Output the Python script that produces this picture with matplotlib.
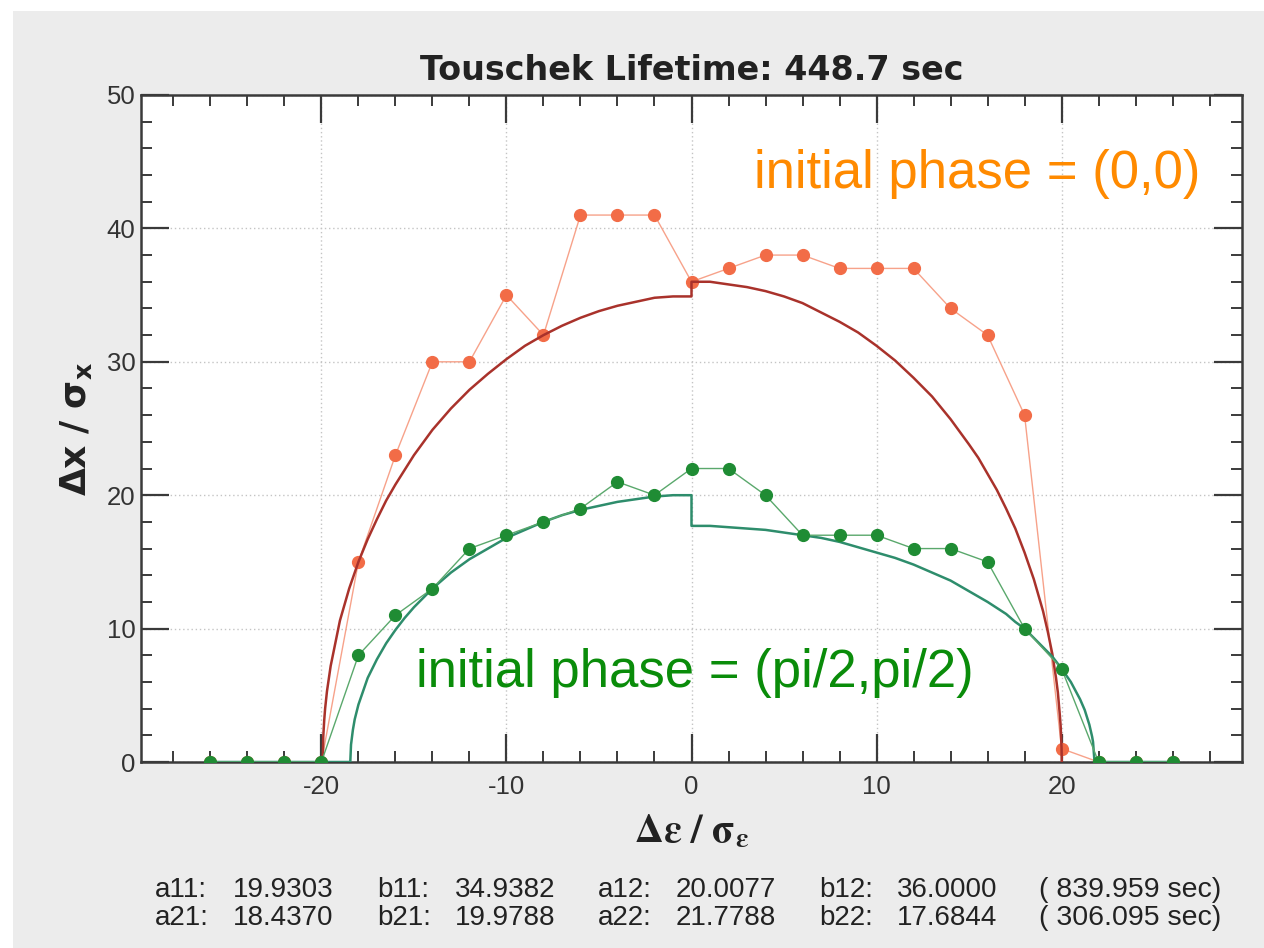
import matplotlib.pyplot as plt
from matplotlib.patches import Rectangle
from matplotlib.ticker import MultipleLocator

plt.rcParams['axes.unicode_minus'] = False

# measured points (x in units of sigma_e)
x_pts = [-26, -24, -22, -20, -18, -16, -14, -12, -10, -8, -6, -4, -2, 0,
         2, 4, 6, 8, 10, 12, 14, 16, 18, 20, 22, 24, 26]
y_phase00 = [0, 0, 0, 0, 15, 23, 30, 30, 35, 32, 41, 41, 41, 36,
             37, 38, 38, 37, 37, 37, 34, 32, 26, 1, 0, 0, 0]
y_phasepi2 = [0, 0, 0, 0, 8, 11, 13, 16, 17, 18, 19, 21, 20, 22,
              22, 20, 17, 17, 17, 16, 16, 15, 10, 7, 0, 0, 0]

# fitted curves
fit1_x = [-19.93, -19.9, -19.85, -19.8, -19.7, -19.5, -19, -18.5, -18, -17.5, -17,
          -16.5, -16, -15, -14, -13, -12, -11, -10, -9, -8, -7, -6, -5, -4, -3,
          -2, -1, 0,
          0, 1, 2, 3, 4, 5, 6, 7, 8, 9, 10, 11, 12, 13, 14, 15, 15.5, 16, 16.5,
          17, 17.5, 18, 18.5, 19, 19.25, 19.5, 19.7, 19.8, 19.9, 19.95, 20.0, 20.01]
fit1_y = [0, 1.9, 3.1, 4.0, 5.3, 7.2, 10.6, 13.0, 15.0, 16.7, 18.2,
          19.6, 20.8, 23.0, 24.9, 26.5, 27.9, 29.1, 30.2, 31.2, 32.0, 32.7, 33.3, 33.8, 34.2, 34.5,
          34.8, 34.9, 34.9,
          36.0, 36.0, 35.8, 35.6, 35.3, 34.9, 34.4, 33.7, 33.0, 32.2, 31.2, 30.1, 28.8, 27.4, 25.7,
          23.8, 22.8, 21.6, 20.4,
          19.0, 17.5, 15.7, 13.7, 11.3, 9.8, 8.1, 6.3, 5.2, 3.6, 2.7, 1.0, 0]
fit2_x = [-26, -18.44, -18.4, -18.3, -18.2, -18, -17.5, -17, -16.5, -16, -15.5, -15,
          -14.5, -14, -13, -12, -11, -10, -9, -8, -7, -6, -5, -4, -3, -2, -1, 0,
          0, 1, 2, 3, 4, 5, 6, 7, 8, 9, 10, 11, 12, 13, 14, 15, 16, 17, 17.5, 18,
          18.5, 19, 19.5, 20, 20.5, 21, 21.25, 21.5, 21.65, 21.7, 21.78, 26]
fit2_y = [0, 0, 1.3, 2.4, 3.2, 4.3, 6.3, 7.7, 8.9, 9.9, 10.8, 11.6,
          12.3, 13.0, 14.2, 15.2, 16.0, 16.8, 17.4, 18.0, 18.5, 18.9, 19.2, 19.5, 19.7, 19.9,
          20.0, 20.0,
          17.7, 17.7, 17.6, 17.5, 17.4, 17.2, 17.0, 16.8, 16.5, 16.1, 15.7, 15.3, 14.8, 14.2,
          13.6, 12.8, 12.0, 11.1, 10.5, 10.0,
          9.3, 8.6, 7.9, 7.0, 6.0, 4.7, 3.9, 2.8, 1.9, 1.5, 0, 0]

fit_names = [['a11:', 'b11:', 'a12:', 'b12:'], ['a21:', 'b21:', 'a22:', 'b22:']]
fit_values = [[19.9303, 34.9382, 20.0077, 36.0000], [18.4370, 19.9788, 21.7788, 17.6844]]
lifetimes = [839.959, 306.095]

W, H = 1264, 948
fig = plt.figure(figsize=(12.64, 9.48), dpi=100)
fig.patch.set_facecolor('white')
fig.add_artist(Rectangle((13 / W, 0), 1, 1 - 11 / H, transform=fig.transFigure,
                         facecolor='#ececec', edgecolor='none', zorder=-5))

ax = fig.add_axes([141 / W, 1 - 762 / H, (1242 - 141) / W, (762 - 95) / H])
ax.set_facecolor('white')

# orange data + fit
ax.plot(x_pts, y_phase00, color='#f7a28a', lw=1.0, marker='o', ms=8.5,
        mfc='#f26c47', mec='#f26c47', zorder=2)
ax.plot(fit1_x, fit1_y, color='#a9322b', lw=1.8, zorder=3)
# green data + fit
ax.plot(fit2_x, fit2_y, color='#2e8d6c', lw=1.8, zorder=4)
ax.plot(x_pts, y_phasepi2, color='#5aa86c', lw=1.0, marker='o', ms=8.5,
        mfc='#1f8c34', mec='#1f8c34', zorder=5)

ax.set_xlim(-29.75, 29.75)
ax.set_ylim(0, 50)
ax.xaxis.set_major_locator(MultipleLocator(10))
ax.xaxis.set_minor_locator(MultipleLocator(2))
ax.yaxis.set_major_locator(MultipleLocator(10))
ax.yaxis.set_minor_locator(MultipleLocator(2))

ax.grid(which='major', color='#c4c4c4', linestyle=(0, (1, 2)), linewidth=1.0, zorder=0)
ax.set_axisbelow(True)

ax.tick_params(which='both', direction='in', top=True, right=True, color='#3a3a3a')
ax.tick_params(which='major', length=20, width=1.6)
ax.tick_params(which='minor', length=8, width=1.4)
ax.tick_params(axis='x', which='major', pad=9)
ax.tick_params(axis='y', which='major', pad=4)
for lab in ax.get_xticklabels() + ax.get_yticklabels():
    lab.set_fontfamily('Liberation Sans')
    lab.set_fontsize(18.5)
    lab.set_color('#333333')
for sp in ax.spines.values():
    sp.set_color('#3a3a3a')
    sp.set_linewidth(1.8)

ax.set_title('Touschek Lifetime: 448.7 sec', fontsize=24, fontweight='bold',
             family='DejaVu Sans', color='#222222', pad=11)
ax.set_ylabel(r'$\mathbf{\Delta x\ /\ \sigma_x}$', fontsize=26, math_fontfamily='dejavusans',
              color='#222222', labelpad=9)
ax.set_xlabel(r'$\mathbf{\Delta\varepsilon\ /\ \sigma_{\varepsilon}}$', fontsize=29,
              math_fontfamily='stix', color='#222222', labelpad=9)

ax.text(3.4, 43.0, 'initial phase = (0,0)', color='#ff8a00', fontsize=38,
        family='Liberation Sans', va='baseline', ha='left', zorder=6)
ax.text(-14.9, 5.6, 'initial phase = (pi/2,pi/2)', color='#0a8c0a', fontsize=38,
        family='Liberation Sans', va='baseline', ha='left', zorder=6)

# fit parameter table below the plot
label_x = [155, 377, 598, 819]
row_y = [897, 925]
for r in range(2):
    for c in range(4):
        fig.text(label_x[c] / W, 1 - row_y[r] / H, fit_names[r][c], fontsize=20,
                 family='Liberation Sans', color='#222222', va='baseline')
        fig.text((label_x[c] + 78) / W, 1 - row_y[r] / H, f'{fit_values[r][c]:.4f}',
                 fontsize=20, family='Liberation Sans', color='#222222', va='baseline')
    fig.text(1039 / W, 1 - row_y[r] / H, f'( {lifetimes[r]:.3f} sec)', fontsize=20.5,
             family='Liberation Sans', color='#222222', va='baseline')

fig.savefig('out.png', dpi=100)
